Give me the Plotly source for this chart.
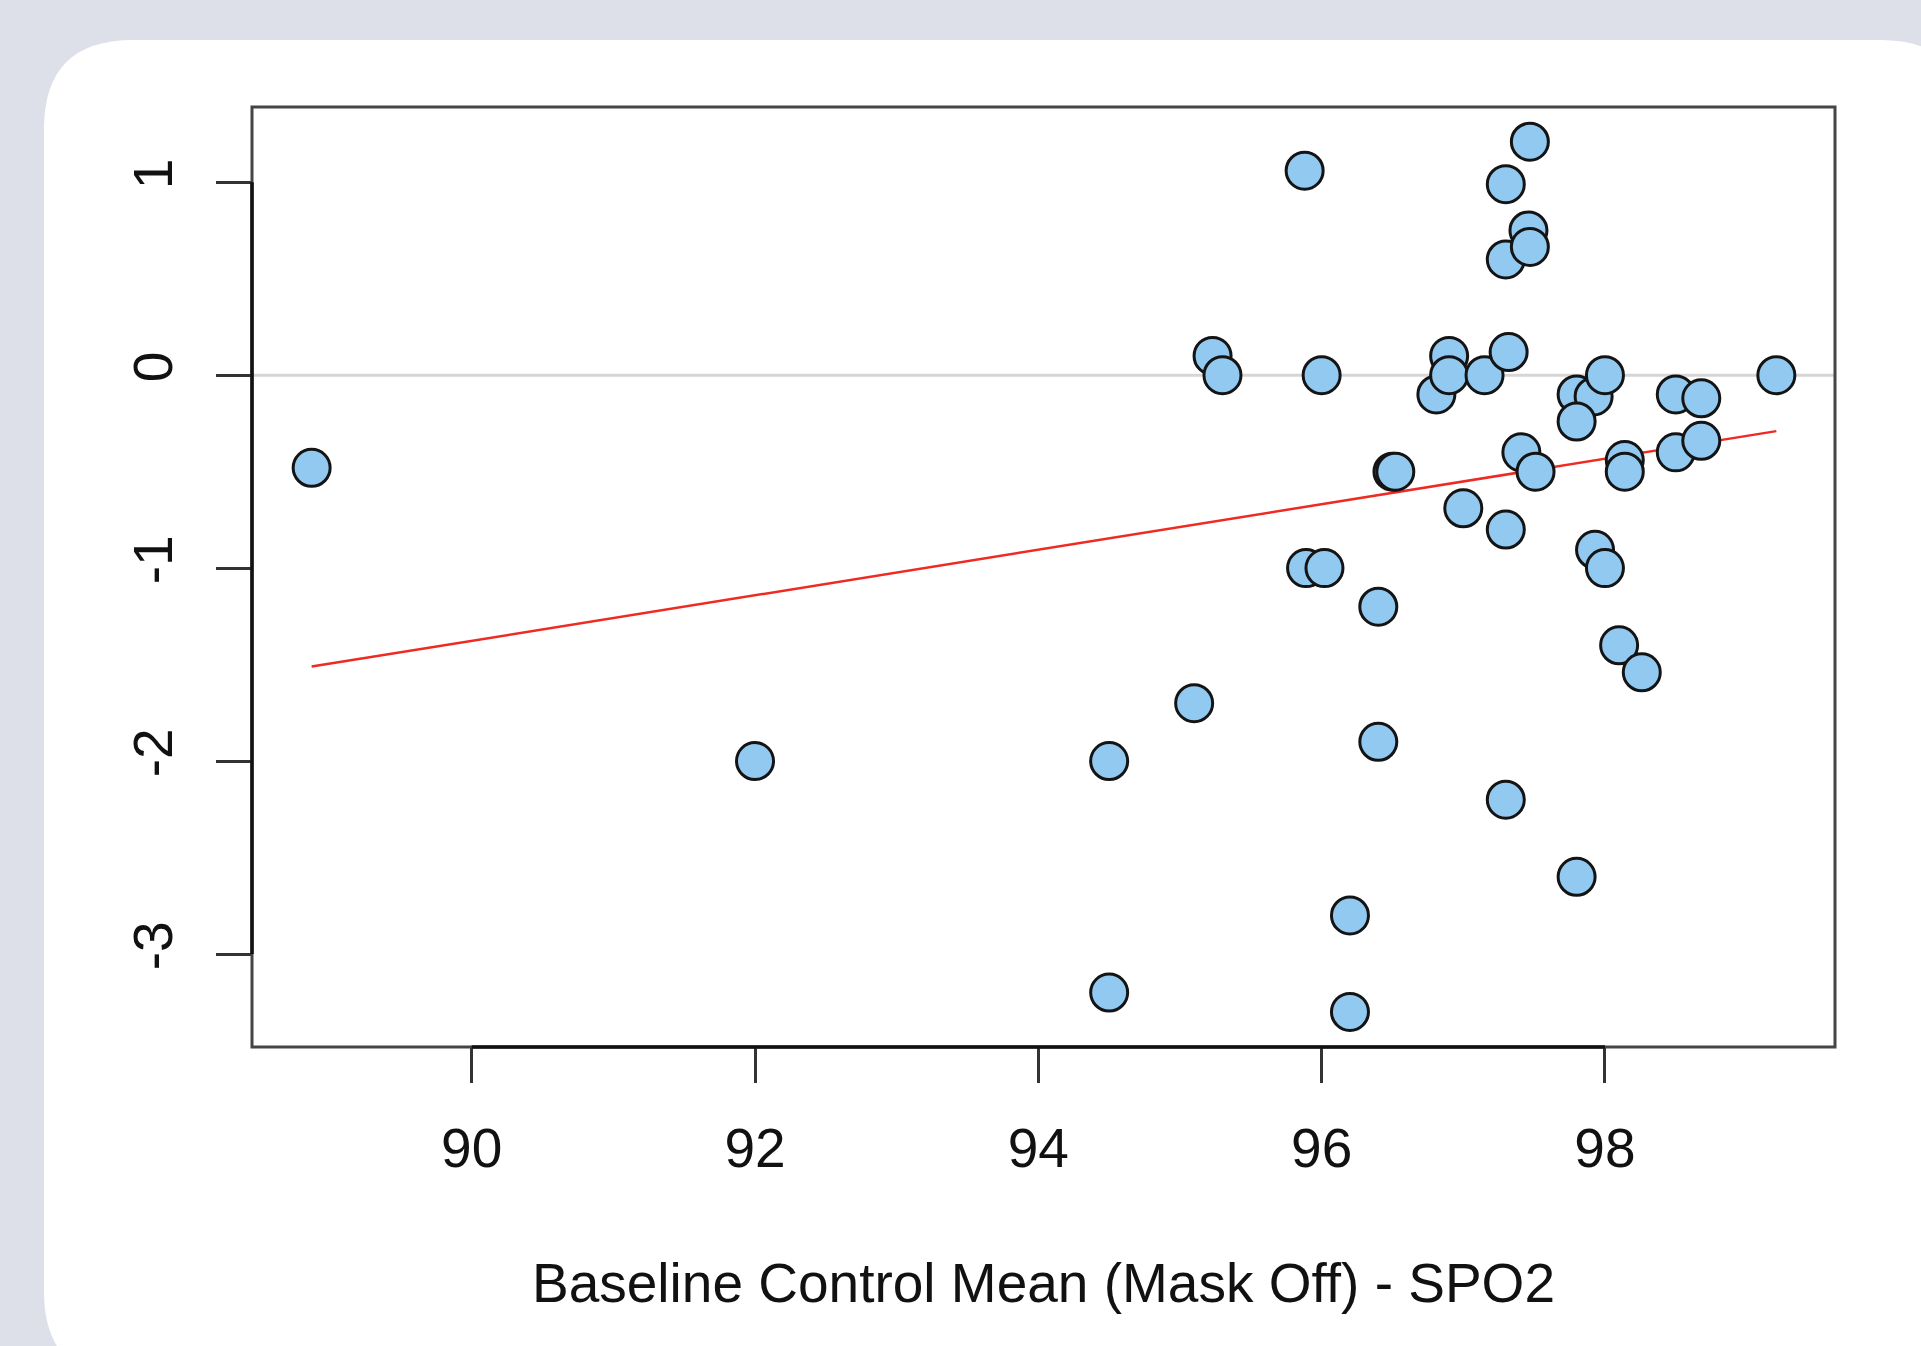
import plotly.graph_objects as go

# ---- data ----
baseline_spo2 = [88.87, 92.0, 94.5, 94.5, 95.1, 95.23, 95.3, 95.88, 96.0, 95.89,
                 96.02, 96.2, 96.2, 96.4, 96.4, 96.5, 96.52, 96.81, 96.9, 96.9,
                 97.0, 97.15, 97.3, 97.3, 97.32, 97.3, 97.3, 97.47, 97.46, 97.47,
                 97.41, 97.51, 97.8, 97.92, 97.8, 98.0, 97.8, 97.93, 98.0, 98.1,
                 98.26, 98.14, 98.14, 98.5, 98.5, 98.68, 98.68, 99.21]
spo2_change = [-0.48, -2.0, -2.0, -3.2, -1.7, 0.10, 0.0, 1.06, 0.0, -1.0,
               -1.0, -2.8, -3.3, -1.2, -1.9, -0.5, -0.5, -0.10, 0.10, 0.0,
               -0.69, 0.0, 0.99, 0.60, 0.12, -0.80, -2.2, 1.21, 0.75, 0.665,
               -0.40, -0.50, -0.10, -0.11, -0.24, 0.0, -2.6, -0.905, -1.0, -1.40,
               -1.54, -0.44, -0.50, -0.10, -0.40, -0.12, -0.34, 0.0]
fit_x = [88.87, 99.21]
fit_y = [-1.51, -0.29]
x_ticks = [90, 92, 94, 96, 98]
y_ticks = [-3, -2, -1, 0, 1]
x_range = [88.449, 99.624]
y_range = [-3.482, 1.39]
x_title = "Baseline Control Mean (Mask Off) - SPO2"

# ---- geometry ----
W, H = 1921, 1346
ML, MR, MT, MB = 252, 86, 107, 299
PW, PH = W - ML - MR, H - MT - MB
FONT = "Liberation Sans, Arial, Helvetica, sans-serif"


def pp(px, py):
    return (px - ML) / PW, (H - MB - py) / PH


def rounded_rect(l, t, r, b, rad):
    pts = [
        ("M", [(l + rad, t)]),
        ("L", [(r - rad, t)]),
        ("Q", [(r, t), (r, t + rad)]),
        ("L", [(r, b - rad)]),
        ("Q", [(r, b), (r - rad, b)]),
        ("L", [(l + rad, b)]),
        ("Q", [(l, b), (l, b - rad)]),
        ("L", [(l, t + rad)]),
        ("Q", [(l, t), (l + rad, t)]),
    ]
    s = ""
    for cmd, coords in pts:
        s += cmd + " " + " ".join("%.5f,%.5f" % pp(x, y) for x, y in coords) + " "
    return s + "Z"


fig = go.Figure()

fig.add_trace(go.Scatter(
    x=fit_x, y=fit_y, mode="lines",
    line=dict(color="#ee2a22", width=2.5),
    hoverinfo="skip", showlegend=False,
))
fig.add_trace(go.Scatter(
    x=baseline_spo2, y=spo2_change, mode="markers",
    marker=dict(size=37, color="#92c9f0", line=dict(color="#141414", width=3)),
    showlegend=False,
))

shapes = [
    # white card
    dict(type="path", xref="paper", yref="paper", layer="below",
         path=rounded_rect(44, 40, 1969, 1380, 89),
         fillcolor="white", line=dict(width=0)),
    # zero reference line
    dict(type="line", xref="paper", yref="y", x0=0, x1=1, y0=0, y1=0,
         layer="below", line=dict(color="#d6d6d6", width=3)),
    # box
    dict(type="rect", xref="paper", yref="paper", x0=0, x1=1, y0=0, y1=1,
         line=dict(color="#454545", width=3)),
    # R-style axis lines spanning the tick range
    dict(type="line", xref="x", yref="paper", x0=x_ticks[0], x1=x_ticks[-1],
         y0=0, y1=0, line=dict(color="#111111", width=3.5)),
    dict(type="line", xref="paper", yref="y", x0=0, x1=0,
         y0=y_ticks[0], y1=y_ticks[-1], line=dict(color="#111111", width=3.5)),
]

fig.update_layout(
    width=W, height=H,
    margin=dict(l=ML, r=MR, t=MT, b=MB, pad=0),
    paper_bgcolor="#dde0e8",
    plot_bgcolor="white",
    shapes=shapes,
    font=dict(family=FONT, color="#111111"),
    xaxis=dict(
        range=x_range, tickvals=x_ticks, ticktext=[str(v) for v in x_ticks],
        showgrid=False, zeroline=False, showline=False,
        ticks="outside", ticklen=35, tickwidth=3, tickcolor="#333333",
        tickfont=dict(size=55, family=FONT, color="#111111"),
        ticklabelstandoff=18,
        title=dict(text=x_title, font=dict(size=55, family=FONT, color="#111111"),
                   standoff=85),
        automargin=False,
    ),
    yaxis=dict(
        range=y_range, tickvals=y_ticks, ticktext=[str(v) for v in y_ticks],
        showgrid=False, zeroline=False, showline=False,
        ticks="outside", ticklen=35, tickwidth=3, tickcolor="#333333",
        tickfont=dict(size=55, family=FONT, color="#111111"),
        tickangle=-90, ticklabelstandoff=22,
        automargin=False,
    ),
)

fig.write_html("out.html")
